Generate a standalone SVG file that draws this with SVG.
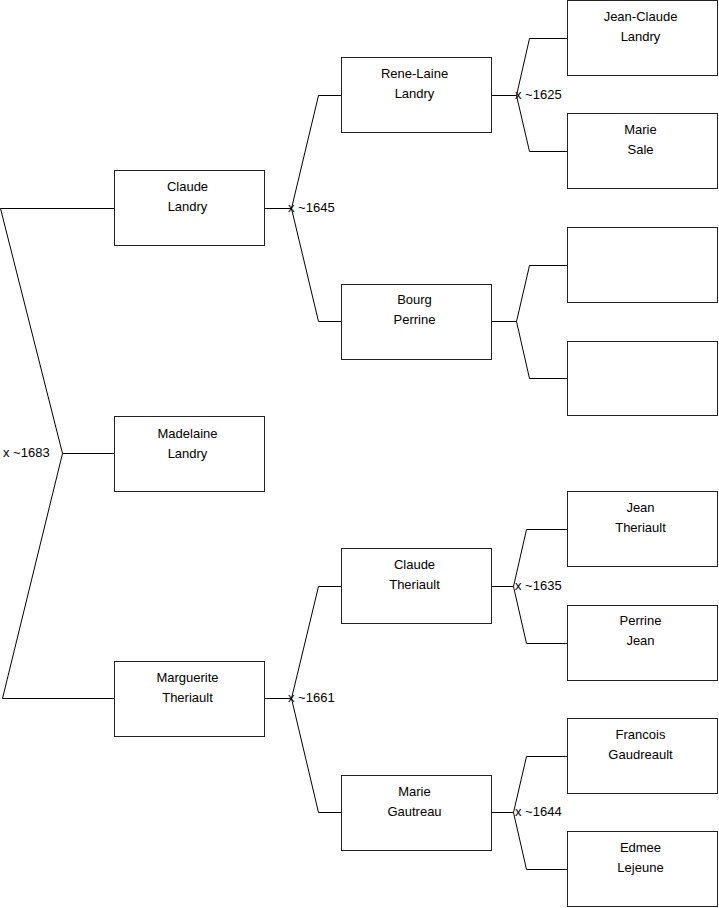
<svg xmlns="http://www.w3.org/2000/svg" width="719" height="908" viewBox="0 0 719 908">
<style>
.box{fill:#fff;stroke:#222;stroke-width:1}
.t{font-family:"Liberation Sans",Arial,sans-serif;font-size:13px;fill:#000;text-anchor:middle}
.l{font-family:"Liberation Sans",Arial,sans-serif;font-size:13px;fill:#000}
.c{fill:none;stroke:#000;stroke-width:1}
</style>
<rect width="719" height="908" fill="#fff"/>
<g id="connectors">
<path class="c" d="M114.5,208.5 H0.5 L62.5,453.5 L2.5,698.5 H114.5 M62.5,453.5 H114.5"/>
<path class="c" d="M265,208.5 H291.5 M341,95.5 H318.5 L291.5,208.5 L318.5,321.5 H341"/>
<path class="c" d="M265,698.5 H291.5 M341,586.5 H318.5 L291.5,698.5 L318.5,812.5 H341"/>
<path class="c" d="M492,95.5 H516.5 M567,38.5 H529.5 L516.5,95.5 L529.5,151.5 H567"/>
<path class="c" d="M492,321.5 H516.5 M567,265.5 H529.5 L516.5,321.5 L529.5,378.5 H567"/>
<path class="c" d="M492,586.5 H513.5 M567,529.5 H526.5 L513.5,586.5 L526.5,643.5 H567"/>
<path class="c" d="M492,812.5 H513.5 M567,756.5 H526.5 L513.5,812.5 L526.5,869.5 H567"/>
<text class="l" x="3" y="457">x ~1683</text>
<text class="l" x="288" y="212">x ~1645</text>
<text class="l" x="288" y="702">x ~1661</text>
<text class="l" x="515" y="99">x ~1625</text>
<text class="l" x="515" y="590">x ~1635</text>
<text class="l" x="515" y="816">x ~1644</text>
</g>
<g id="n-claude-landry"><rect class="box" x="114.5" y="170.5" width="150" height="75"/><text class="t" x="187.5" y="191">Claude</text><text class="t" x="187.5" y="211">Landry</text></g>
<g id="n-madelaine-landry"><rect class="box" x="114.5" y="416.5" width="150" height="75"/><text class="t" x="187.5" y="438">Madelaine</text><text class="t" x="187.5" y="458">Landry</text></g>
<g id="n-marguerite-theriault"><rect class="box" x="114.5" y="661.5" width="150" height="75"/><text class="t" x="187.5" y="682">Marguerite</text><text class="t" x="187.5" y="702">Theriault</text></g>
<g id="n-rene-laine-landry"><rect class="box" x="341.5" y="57.5" width="150" height="75"/><text class="t" x="414.5" y="78">Rene-Laine</text><text class="t" x="414.5" y="98">Landry</text></g>
<g id="n-bourg-perrine"><rect class="box" x="341.5" y="284.5" width="150" height="75"/><text class="t" x="414.5" y="304">Bourg</text><text class="t" x="414.5" y="324">Perrine</text></g>
<g id="n-claude-theriault"><rect class="box" x="341.5" y="548.5" width="150" height="75"/><text class="t" x="414.5" y="569">Claude</text><text class="t" x="414.5" y="589">Theriault</text></g>
<g id="n-marie-gautreau"><rect class="box" x="341.5" y="775.5" width="150" height="75"/><text class="t" x="414.5" y="796">Marie</text><text class="t" x="414.5" y="816">Gautreau</text></g>
<g id="n-jean-claude-landry"><rect class="box" x="567.5" y="0.5" width="150" height="75"/><text class="t" x="640.5" y="21">Jean-Claude</text><text class="t" x="640.5" y="41">Landry</text></g>
<g id="n-marie-sale"><rect class="box" x="567.5" y="113.5" width="150" height="75"/><text class="t" x="640.5" y="134">Marie</text><text class="t" x="640.5" y="154">Sale</text></g>
<g id="n-empty-1"><rect class="box" x="567.5" y="227.5" width="150" height="75"/></g>
<g id="n-empty-2"><rect class="box" x="567.5" y="341.5" width="150" height="74"/></g>
<g id="n-jean-theriault"><rect class="box" x="567.5" y="491.5" width="150" height="75"/><text class="t" x="640.5" y="512">Jean</text><text class="t" x="640.5" y="532">Theriault</text></g>
<g id="n-perrine-jean"><rect class="box" x="567.5" y="605.5" width="150" height="75"/><text class="t" x="640.5" y="625">Perrine</text><text class="t" x="640.5" y="645">Jean</text></g>
<g id="n-francois-gaudreault"><rect class="box" x="567.5" y="718.5" width="150" height="75"/><text class="t" x="640.5" y="739">Francois</text><text class="t" x="640.5" y="759">Gaudreault</text></g>
<g id="n-edmee-lejeune"><rect class="box" x="567.5" y="831.5" width="150" height="75"/><text class="t" x="640.5" y="852">Edmee</text><text class="t" x="640.5" y="872">Lejeune</text></g>
</svg>
